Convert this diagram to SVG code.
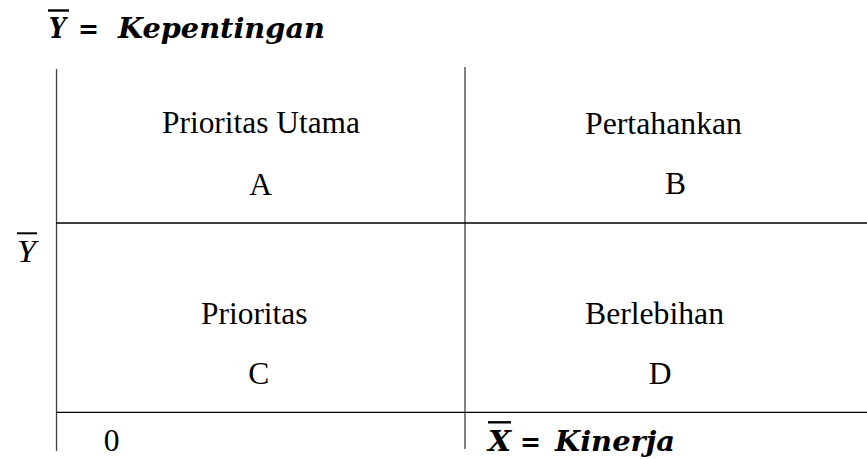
<svg xmlns="http://www.w3.org/2000/svg" width="867" height="459" viewBox="0 0 867 459">
<style>
.lbl{font-family:"Liberation Serif","Times New Roman",serif;font-size:31.5px;fill:#000}
.math{font-family:"DejaVu Serif","Liberation Serif",serif;font-size:27px;font-weight:bold;font-style:italic;fill:#000}
.axis{stroke:#000;stroke-width:1.3;fill:none}
.vaxis{stroke:#404040;stroke-width:1.3;fill:none}
.bar{stroke:#000;stroke-width:2.4}
</style>
<rect width="867" height="459" fill="#fff"/>
<g id="connectors">
<line class="vaxis" x1="56.5" y1="69" x2="56.5" y2="451"/>
<line class="vaxis" x1="465" y1="67" x2="465" y2="449"/>
<line class="axis" x1="56" y1="223" x2="867" y2="223"/>
<line class="axis" x1="56" y1="412.3" x2="867" y2="412.3"/>
</g>
<g id="title-y">
<line class="bar" x1="48" y1="10.5" x2="69" y2="10.5"/>
<text class="math" x="49" y="37.5" textLength="17" lengthAdjust="spacingAndGlyphs">Y</text>
<text class="math" x="78" y="37.5" textLength="21" lengthAdjust="spacingAndGlyphs">=</text>
<text class="math" x="118" y="37.5" textLength="207" lengthAdjust="spacingAndGlyphs">Kepentingan</text>
</g>
<g id="ybar-label">
<line x1="17" y1="233.3" x2="37" y2="233.3" stroke="#000" stroke-width="2"/>
<text x="17" y="261.5" font-family="Liberation Serif, serif" font-style="italic" font-size="32" textLength="19" lengthAdjust="spacingAndGlyphs">Y</text>
</g>
<g id="quadrant-A">
<text class="lbl" x="162" y="133" textLength="198" lengthAdjust="spacingAndGlyphs">Prioritas Utama</text>
<text class="lbl" x="260.5" y="195" text-anchor="middle">A</text>
</g>
<g id="quadrant-B">
<text class="lbl" x="585" y="134" textLength="157" lengthAdjust="spacingAndGlyphs">Pertahankan</text>
<text class="lbl" x="675.5" y="194" text-anchor="middle">B</text>
</g>
<g id="quadrant-C">
<text class="lbl" x="201" y="323.5" textLength="106.5" lengthAdjust="spacingAndGlyphs">Prioritas</text>
<text class="lbl" x="258.8" y="384" text-anchor="middle">C</text>
</g>
<g id="quadrant-D">
<text class="lbl" x="585" y="323.5" textLength="139" lengthAdjust="spacingAndGlyphs">Berlebihan</text>
<text class="lbl" x="660" y="384" text-anchor="middle">D</text>
</g>
<g id="origin">
<text class="lbl" x="111.7" y="450.5" text-anchor="middle">0</text>
</g>
<g id="title-x">
<line class="bar" x1="488" y1="422.3" x2="511" y2="422.3"/>
<text class="math" x="488" y="450.5" textLength="23" lengthAdjust="spacingAndGlyphs">X</text>
<text class="math" x="520" y="450.5" textLength="21" lengthAdjust="spacingAndGlyphs">=</text>
<text class="math" x="555" y="450.5" textLength="120" lengthAdjust="spacingAndGlyphs">Kinerja</text>
</g>
</svg>
